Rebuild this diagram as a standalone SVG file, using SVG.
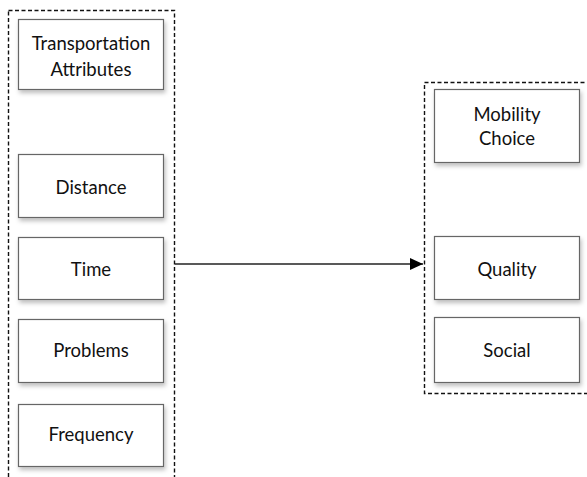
<svg xmlns="http://www.w3.org/2000/svg" width="587" height="477" viewBox="0 0 587 477">
  <style>
    .group { fill: none; stroke: #111; stroke-width: 1.4; stroke-dasharray: 4 2.5; }
    .box { fill: #fff; stroke: #666; stroke-width: 1.2; filter: url(#shadow); }
    .label { font-family: Lato, "Open Sans", sans-serif; font-size: 18.5px; fill: #111; text-anchor: middle; }
    .link { stroke: #222; stroke-width: 1.3; fill: none; }
  </style>
  <defs>
    <filter id="shadow" x="-10%" y="-10%" width="130%" height="140%">
      <feDropShadow dx="1.5" dy="3" stdDeviation="2" flood-color="#000" flood-opacity="0.25"/>
    </filter>
    <marker id="arrow" viewBox="0 0 13 12" refX="13" refY="6" markerWidth="13" markerHeight="12" markerUnits="userSpaceOnUse" orient="auto">
      <path d="M0,0 L13,6 L0,12 Z" fill="#000"/>
    </marker>
  </defs>

  <rect width="587" height="477" fill="#fff"/>

  <!-- dashed group frames -->
  <g id="group-left">
    <rect class="group" x="8.5" y="10.5" width="166" height="480"/>
  </g>
  <g id="group-right">
    <rect class="group" x="424.5" y="82.5" width="170" height="311"/>
  </g>

  <!-- left column -->
  <g id="node-transportation">
    <rect class="box" x="18.5" y="19.5" width="145" height="70"/>
    <text class="label" x="91" y="50">Transportation</text>
    <text class="label" x="91" y="76">Attributes</text>
  </g>
  <g id="node-distance">
    <rect class="box" x="18.5" y="154.5" width="145" height="63"/>
    <text class="label" x="91" y="194">Distance</text>
  </g>
  <g id="node-time">
    <rect class="box" x="18.5" y="237.5" width="145" height="62"/>
    <text class="label" x="91" y="276">Time</text>
  </g>
  <g id="node-problems">
    <rect class="box" x="18.5" y="319.5" width="145" height="63"/>
    <text class="label" x="91" y="357">Problems</text>
  </g>
  <g id="node-frequency">
    <rect class="box" x="18.5" y="404.5" width="145" height="62"/>
    <text class="label" x="91" y="441">Frequency</text>
  </g>

  <!-- right column -->
  <g id="node-mobility">
    <rect class="box" x="434.5" y="89.5" width="145" height="73"/>
    <text class="label" x="507" y="121">Mobility</text>
    <text class="label" x="507" y="145">Choice</text>
  </g>
  <g id="node-quality">
    <rect class="box" x="434.5" y="236.5" width="145" height="63"/>
    <text class="label" x="507" y="276">Quality</text>
  </g>
  <g id="node-social">
    <rect class="box" x="434.5" y="317.5" width="145" height="65"/>
    <text class="label" x="507" y="357">Social</text>
  </g>

  <!-- connectors -->
  <g id="connectors">
    <line class="link" x1="175" y1="264" x2="423" y2="264" marker-end="url(#arrow)"/>
  </g>
</svg>
